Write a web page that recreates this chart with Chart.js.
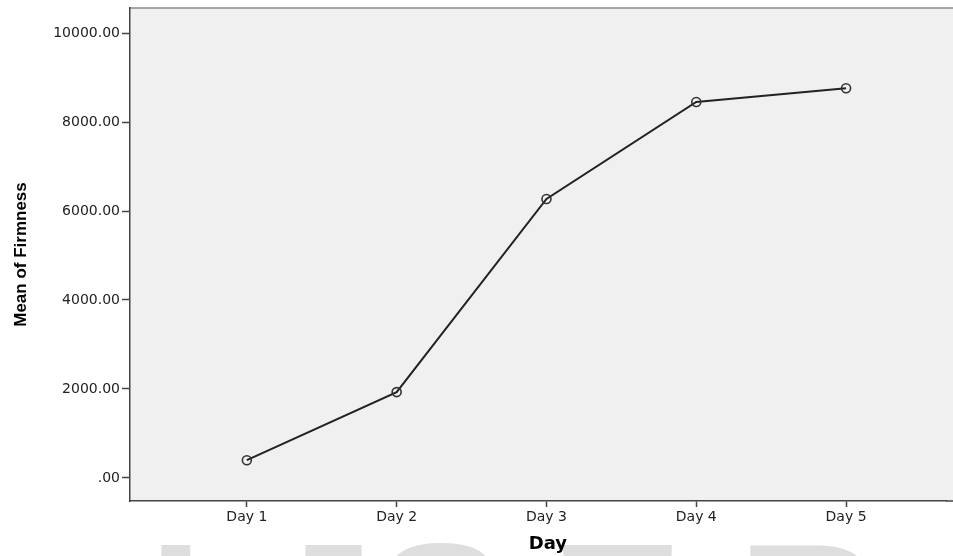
<!DOCTYPE html>
<html>
<head>
<meta charset="utf-8">
<script src="https://cdn.jsdelivr.net/npm/chart.js@4.4.0/dist/chart.umd.min.js"></script>
<style>
	html, body { margin: 0; padding: 0; background: #fff; overflow: hidden; }
	#wrap { width: 953px; height: 556px; }
	canvas { display: block; }
</style>
</head>
<body>
<div id="wrap"><canvas id="myChart" width="953" height="556"></canvas></div>
<script>
// data
var days = ['Day 1', 'Day 2', 'Day 3', 'Day 4', 'Day 5'];
var firmness = [400, 1930, 6270, 8450, 8760];
var yTicks = [0, 2000, 4000, 6000, 8000, 10000];

var points = [];
for (var i = 0; i < days.length; i++) {
	points.push({x: i + 1, y: firmness[i]});
}

// gray plot background (runs to the canvas edge) + top border + faint watermark letters
var backdrop = {
	id: 'backdrop',
	beforeDraw: function(chart){
		var ctx = chart.ctx;
		var a = chart.chartArea;
		ctx.save();
		ctx.fillStyle = '#dedede';
		var size = 200;
		ctx.font = 'bold ' + size + 'px "Liberation Sans", Arial, sans-serif';
		ctx.textBaseline = 'alphabetic';
		var base = 540 + 0.716 * size;
		var letters = [['I', 148], ['J', 264], ['S', 374], ['E', 550], ['R', 737]];
		letters.forEach(function(l){
			ctx.fillText(l[0], l[1], base);
		});
		ctx.fillStyle = '#f0f0f0';
		ctx.fillRect(a.left, a.top, chart.width - a.left, a.bottom - a.top);
		ctx.strokeStyle = '#8a8a8a';
		ctx.lineWidth = 1.5;
		ctx.beginPath();
		ctx.moveTo(a.left, a.top);
		ctx.lineTo(chart.width, a.top);
		ctx.stroke();
		ctx.restore();
	},
	afterDraw: function(chart){
		// carry the bottom axis line on to the edge
		var ctx = chart.ctx;
		var a = chart.chartArea;
		ctx.save();
		ctx.strokeStyle = '#444';
		ctx.lineWidth = 1.5;
		ctx.beginPath();
		ctx.moveTo(a.right - 1, a.bottom);
		ctx.lineTo(chart.width, a.bottom);
		ctx.stroke();
		ctx.restore();
	}
};

function grafon(){
	var ctx = document.getElementById('myChart').getContext('2d');
	var chart = new Chart(ctx, {
		type: 'line',
		data: {
			datasets: [{
				label: 'Mean of Firmness',
				data: points,
				borderColor: '#222',
				borderWidth: 2,
				backgroundColor: 'rgba(0,0,0,0)',
				pointRadius: 4.5,
				pointBorderWidth: 1.6,
				pointBorderColor: '#333',
				pointBackgroundColor: 'rgba(0,0,0,0)',
				tension: 0
			}]
		},
		options: {
			responsive: false,
			animation: false,
			layout: { padding: { top: 8, right: 0, left: 0, bottom: 0 } },
			plugins: {
				legend: { display: false },
				tooltip: { enabled: false }
			},
			scales: {
				x: {
					type: 'linear',
					min: 0.22,
					max: 5.673,
					afterBuildTicks: function(scale){
						scale.ticks = days.map(function(d, i){ return {value: i + 1}; });
					},
					afterFit: function(scale){
						scale.height = 55;
						scale.paddingLeft = 0;
						scale.paddingRight = 0;
					},
					ticks: {
						color: '#222',
						font: { family: '"DejaVu Sans", Arial, sans-serif', size: 14 },
						padding: 2,
						maxRotation: 0,
						callback: function(v){ return days[v - 1]; }
					},
					grid: { display: true, drawOnChartArea: false, drawTicks: true, tickLength: 6, tickColor: '#444', tickWidth: 1.5 },
					border: { display: true, color: '#444', width: 1.5 },
					title: {
						display: true,
						text: '\u00a0\u00a0\u00a0Day',
						color: '#000',
						font: { family: '"DejaVu Sans", Arial, sans-serif', size: 18, weight: 'bold' },
						padding: { top: 0, bottom: 1 }
					}
				},
				y: {
					min: -517,
					max: 10562,
					afterBuildTicks: function(scale){
						scale.ticks = yTicks.map(function(v){ return {value: v}; });
					},
					afterFit: function(scale){
						scale.width = 130;
						scale.paddingTop = 0;
						scale.paddingBottom = 0;
					},
					ticks: {
						color: '#222',
						font: { family: '"DejaVu Sans", Arial, sans-serif', size: 14 },
						padding: 2,
						callback: function(v){ return v === 0 ? '.00' : v.toFixed(2); }
					},
					grid: { display: true, drawOnChartArea: false, drawTicks: true, tickLength: 8, tickColor: '#444', tickWidth: 1.5 },
					border: { display: true, color: '#444', width: 1.5 },
					title: {
						display: true,
						text: 'Mean of Firmness',
						color: '#000',
						font: { family: '"Liberation Sans Narrow", "Arial Narrow", "Liberation Sans", sans-serif', size: 17, weight: 'bold' },
						padding: { top: 11, bottom: 0 }
					}
				}
			}
		},
		plugins: [backdrop]
	});
}

grafon();
</script>
</body>
</html>
